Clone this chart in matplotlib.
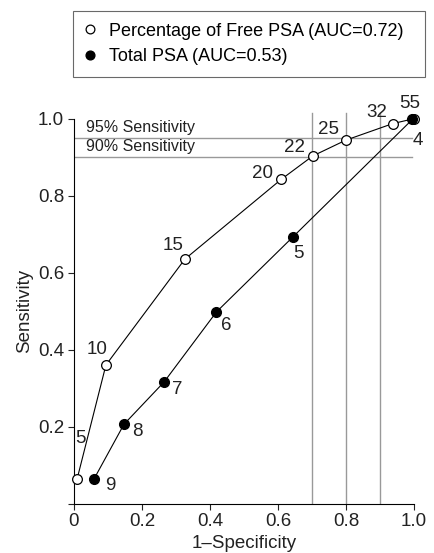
import matplotlib.pyplot as plt

plt.rcParams['font.family'] = ['Liberation Sans', 'DejaVu Sans']

# percentage of free PSA cut-offs
free_fpr = [0.009, 0.094, 0.326, 0.609, 0.702, 0.799, 0.937, 1.0]
free_sens = [0.063, 0.360, 0.635, 0.842, 0.903, 0.944, 0.987, 1.0]
free_cut = ["5", "10", "15", "20", "22", "25", "32", "55"]

# total PSA cut-offs
tot_fpr = [0.059, 0.147, 0.265, 0.419, 0.644, 0.995]
tot_sens = [0.064, 0.206, 0.316, 0.498, 0.693, 0.998]
tot_cut = ["9", "8", "7", "6", "5", "4"]

# label offsets (pixels)
free_off = [(3, 41), (-9, 16), (-12, 14), (-19, 6), (-18, 8), (-17, 11), (-16, 11), (-4, 15)]
tot_off = [(16, -7), (13, -7), (13, -8), (10, -14), (5, -17), (5, -21)]

sens_levels = [0.95, 0.90]
sens_text = ["95% Sensitivity", "90% Sensitivity"]
spec_levels = [0.7, 0.8, 0.9]

fig = plt.figure(figsize=(4.35, 5.53), dpi=100)
ax = fig.add_axes([0.170, 0.0893, 0.782, 0.731])

grey = '#999999'
fs = 13.5
for s, t in zip(sens_levels, sens_text):
    ax.plot([0, 0.993], [s, s], color=grey, lw=1, zorder=1)
    ax.text(0.035, s + 0.007, t, fontsize=11.5, color='#222222', va='bottom')
for v in spec_levels:
    ax.plot([v, v], [0, 1.014], color=grey, lw=1, zorder=1)

h1, = ax.plot(free_fpr, free_sens, '-o', color='black', lw=0.8, ms=7,
              mfc='white', mec='black', mew=0.9, clip_on=False, zorder=3,
              label="Percentage of Free PSA (AUC=0.72)")
h2, = ax.plot(tot_fpr, tot_sens, '-o', color='black', lw=0.8, ms=7,
              mfc='black', mec='black', clip_on=False, zorder=4,
              label="Total PSA (AUC=0.53)")

for x, y, c, o in zip(free_fpr, free_sens, free_cut, free_off):
    ax.annotate(c, (x, y), xytext=o, textcoords='offset pixels',
                ha='center', va='center', fontsize=fs, color='#222222')
for x, y, c, o in zip(tot_fpr, tot_sens, tot_cut, tot_off):
    ax.annotate(c, (x, y), xytext=o, textcoords='offset pixels',
                ha='center', va='center', fontsize=fs, color='#222222')

ax.set_xlim(0, 1.0)
ax.set_ylim(0, 1.05)
ax.set_xticks([0, 0.2, 0.4, 0.6, 0.8, 1.0])
ax.set_xticklabels(["0", "0.2", "0.4", "0.6", "0.8", "1.0"])
ax.set_yticks([0, 0.2, 0.4, 0.6, 0.8, 1.0])
ax.set_yticklabels(["", "0.2", "0.4", "0.6", "0.8", "1.0"])
ax.tick_params(labelsize=fs, length=4, width=0.8, colors='#222222', pad=3)
ax.spines['top'].set_visible(False)
ax.spines['right'].set_visible(False)
ax.spines['left'].set_bounds(0, 1)
ax.set_xlabel("1\u2013Specificity", fontsize=fs, labelpad=3, color='#222222')
ax.set_ylabel("Sensitivity", fontsize=fs, color='#222222')
ax.yaxis.set_label_coords(-0.12, 0.476)

leg = fig.legend(handles=[h1, h2], loc='upper left',
                 bbox_to_anchor=(0.168, 0.857, 0.809, 0.123), mode='expand',
                 borderaxespad=0,
                 fontsize=13, frameon=True, fancybox=False, handlelength=0.6,
                 handletextpad=0.75, borderpad=0.65, labelspacing=0.45,
                 markerscale=0.9)
leg.get_frame().set_edgecolor('#444444')
leg.get_frame().set_linewidth(0.8)
for lh in leg.get_lines():
    lh.set_linestyle('')

fig.savefig("out.png", dpi=100)
